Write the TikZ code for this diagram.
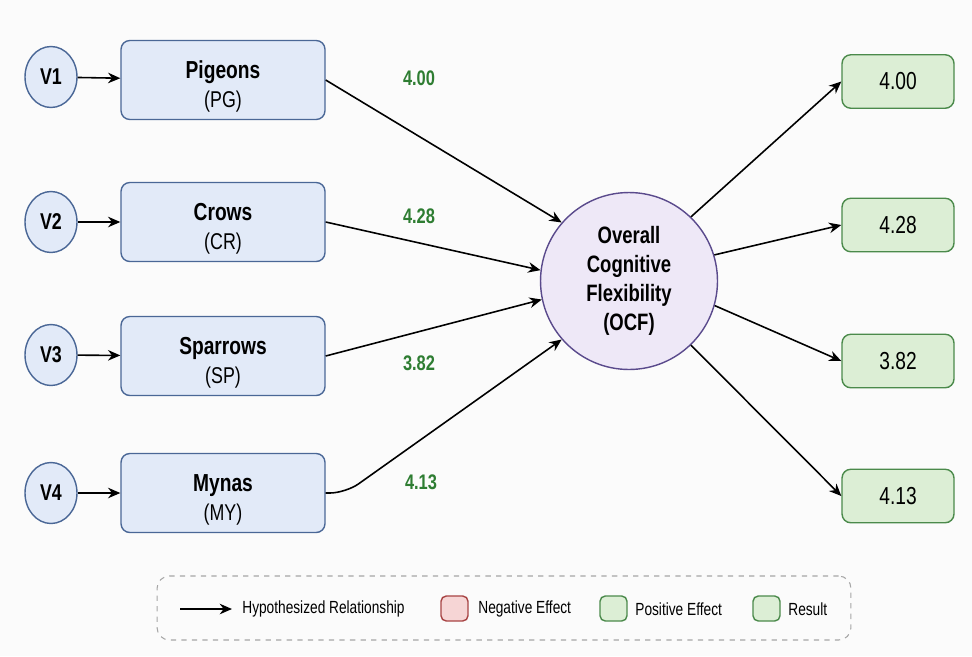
\documentclass[tikz,border=0pt]{standalone}
\usepackage{fontspec}
\setmainfont{Liberation Sans}[FakeStretch=0.78]
\usetikzlibrary{arrows.meta,shapes.geometric}
\definecolor{bluefill}{HTML}{E2EAF8}
\definecolor{blueline}{HTML}{4A6796}
\definecolor{purplefill}{HTML}{EEE8F7}
\definecolor{purpleline}{HTML}{5A4A8C}
\definecolor{greenfill}{HTML}{DCEED5}
\definecolor{greenline}{HTML}{4B8A4B}
\definecolor{greentext}{HTML}{2E7D32}
\definecolor{redfill}{HTML}{F6D5D5}
\definecolor{redline}{HTML}{A84444}
\newcommand{\sptitle}[1]{\rule{0pt}{17.5pt}{\fontsize{14}{16}\selectfont\bfseries #1}}
\tikzset{
  vnode/.style={ellipse,draw=blueline,fill=bluefill,line width=0.8pt,minimum width=1.04cm,minimum height=1.22cm,inner sep=0pt,font=\fontsize{13}{15}\selectfont\bfseries},
  spbox/.style={rectangle,rounded corners=5pt,draw=blueline,fill=bluefill,line width=0.8pt,minimum width=4.08cm,minimum height=1.58cm,align=center,font=\fontsize{13}{16.5}\selectfont},
  resbox/.style={rectangle,rounded corners=5pt,draw=greenline,fill=greenfill,line width=0.8pt,minimum width=2.24cm,minimum height=1.07cm,font=\fontsize{14}{16}\selectfont},
  ocfnode/.style={circle,draw=purpleline,fill=purplefill,line width=0.8pt,minimum size=3.54cm,align=center,inner sep=0pt,font=\fontsize{13.5}{16.5}\selectfont\bfseries},
  coef/.style={text=greentext,font=\fontsize{12}{14}\selectfont\bfseries},
  arr/.style={-{Stealth[length=7pt,width=6pt]},line width=0.9pt,black},
  legtext/.style={font=\fontsize{10}{12}\selectfont,anchor=west,inner sep=0pt},
  legsq/.style={rectangle,rounded corners=3pt,line width=0.8pt,minimum width=0.54cm,minimum height=0.5cm,inner sep=0pt},
}
\begin{document}
\begin{tikzpicture}[x=0.02cm,y=-0.02cm]
\useasboundingbox (0,0) rectangle (972,656);
\fill[white!97!gray] (0,0) rectangle (972,656);
% V nodes
\node[vnode] (v1) at (51,77) {V1};
\node[vnode] (v2) at (51,222) {V2};
\node[vnode] (v3) at (51,355) {V3};
\node[vnode] (v4) at (51,493) {V4};
% species boxes
\node[spbox] (pg) at (223,80) {\sptitle{Pigeons}\\(PG)};
\node[spbox] (cr) at (223,222) {\sptitle{Crows}\\(CR)};
\node[spbox] (sp) at (223,356) {\sptitle{Sparrows}\\(SP)};
\node[spbox] (my) at (223,493) {\sptitle{Mynas}\\(MY)};
% central
\node[ocfnode] (ocf) at (629,281) {Overall\\Cognitive\\Flexibility\\(OCF)};
% results
\node[resbox] (r1) at (898,81.5) {4.00};
\node[resbox] (r2) at (898,225) {4.28};
\node[resbox] (r3) at (898,361) {3.82};
\node[resbox] (r4) at (898,496) {4.13};
% coefficient labels
\node[coef] (c1) at (419,78) {4.00};
\node[coef] (c2) at (419,216) {4.28};
\node[coef] (c3) at (419,363) {3.82};
\node[coef] (c4) at (421,482) {4.13};
% arrows
\draw[arr] (v1) -- (pg);
\draw[arr] (v2) -- (cr);
\draw[arr] (v3) -- (sp);
\draw[arr] (v4) -- (my);
\draw[arr] (pg.east) -- (ocf.139);
\draw[arr] (cr.east) -- (ocf.173);
\draw[arr] (sp.east) -- (ocf.192);
\draw[arr,rounded corners=9pt] (my.east) -- ++(20,0) -- (ocf.221);
\draw[arr] (ocf.46) -- (r1.west);
\draw[arr] (ocf.17) -- (r2.west);
\draw[arr] (ocf.-16) -- (r3.west);
\draw[arr] (ocf.-46) -- (r4.west);
% legend
\node[draw=gray!70,dashed,rounded corners=7pt,minimum width=13.88cm,minimum height=1.28cm,line width=0.6pt] (leg) at (504,608) {};
\coordinate (la) at (180,609);
\coordinate (lb) at (232,609);
\draw[arr] (la) -- (lb);
\node[legtext] (lt1) at (242,609) {Hypothesized Relationship};
\node[legsq,draw=redline,fill=redfill] (sq1) at (454.5,608.5) {};
\node[legtext] (lt2) at (478,609) {Negative Effect};
\node[legsq,draw=greenline,fill=greenfill] (sq2) at (613.5,608.5) {};
\node[legtext] (lt3) at (635,609) {Positive Effect};
\node[legsq,draw=greenline,fill=greenfill] (sq3) at (766.5,608.5) {};
\node[legtext] (lt4) at (788,609) {Result};
\end{tikzpicture}
\end{document}
